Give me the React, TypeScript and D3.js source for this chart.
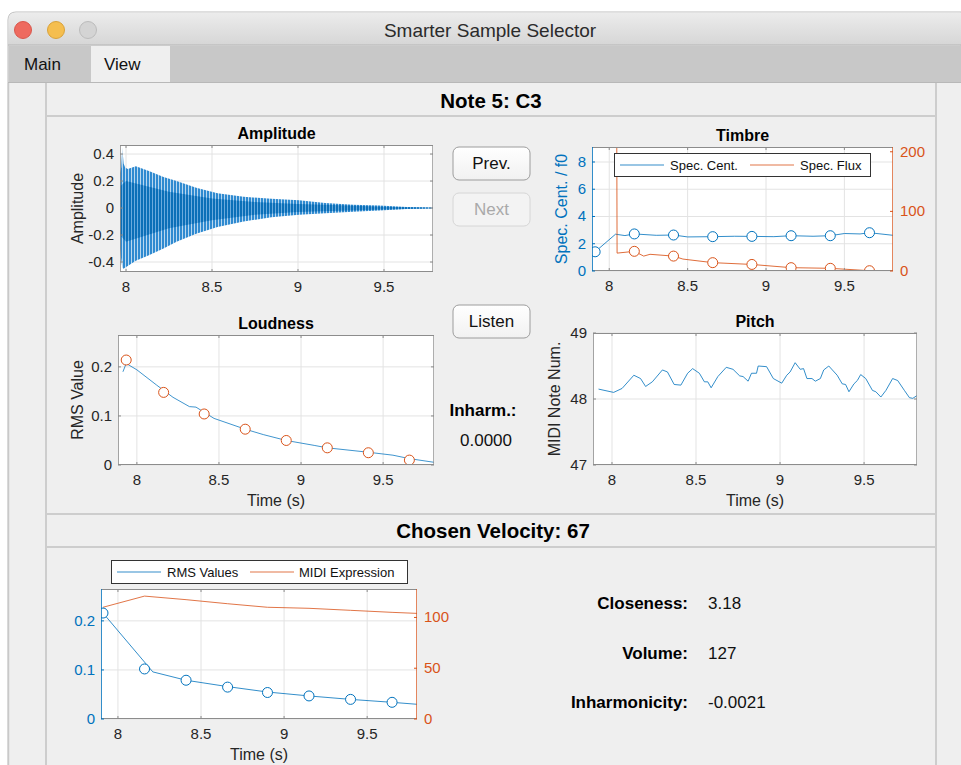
import React from 'react';
import * as d3 from 'd3';

const FONT = '"Liberation Sans", Arial, Helvetica, sans-serif';
const BLUE = '#0072BD';
const ORANGE = '#D95319';
const TXT = '#262626';

// shared time ticks
const timeTicks = [8, 8.5, 9, 9.5];

// Amplitude: waveform envelope (outer peaks and denser core)
const ampTime = [7.965, 7.972, 7.978, 7.986, 7.995, 8.01, 8.057, 8.133, 8.218, 8.294, 8.408, 8.532, 8.684, 8.845, 9.006, 9.158, 9.32, 9.472, 9.633, 9.785];
const ampUpper = [0.26, 0.3, 0.45, 0.33, 0.3, 0.29, 0.31, 0.275, 0.23, 0.2, 0.15, 0.11, 0.083, 0.068, 0.058, 0.038, 0.025, 0.018, 0.008, 0.003];
const ampLower = [-0.3, -0.38, -0.44, -0.45, -0.44, -0.43, -0.39, -0.35, -0.3, -0.25, -0.19, -0.14, -0.1, -0.068, -0.05, -0.038, -0.028, -0.018, -0.008, -0.003];
const coreTime = [7.965, 8.0, 8.25, 8.5, 8.75, 9.0, 9.25, 9.5, 9.785];
const coreUpper = [0.16, 0.2, 0.12, 0.07, 0.045, 0.03, 0.02, 0.01, 0.002];
const coreLower = [-0.2, -0.25, -0.15, -0.09, -0.05, -0.03, -0.02, -0.01, -0.002];
const ampTicks = [-0.4, -0.2, 0, 0.2, 0.4];

// Timbre
const centTime = [7.89, 7.91, 8.04, 8.1, 8.16, 8.3, 8.41, 8.5, 8.66, 8.8, 8.91, 9.05, 9.16, 9.3, 9.41, 9.5, 9.6, 9.66, 9.81];
const centValue = [1.35, 1.41, 2.7, 2.6, 2.72, 2.62, 2.64, 2.5, 2.52, 2.55, 2.54, 2.52, 2.59, 2.55, 2.59, 2.75, 2.72, 2.81, 2.62];
const centMarkTime = [7.91, 8.16, 8.41, 8.66, 8.91, 9.16, 9.41, 9.66];
const centMarkValue = [1.41, 2.72, 2.64, 2.52, 2.54, 2.59, 2.59, 2.81];
const fluxTime = [8.035, 8.05, 8.16, 8.22, 8.26, 8.41, 8.47, 8.66, 8.91, 9.16, 9.41, 9.66, 9.81];
const fluxValue = [1500, 30, 33, 25, 28, 25, 20, 14, 11, 5.6, 4.5, 0.5, 0];
const fluxMarkTime = [8.16, 8.41, 8.66, 8.91, 9.16, 9.41, 9.66];
const fluxMarkValue = [33, 25, 14, 11, 5.6, 4.5, 0.5];
const centTicks = [0, 2, 4, 6, 8];
const fluxTicks = [0, 100, 200];

// Loudness
const loudTime = [7.915, 7.935, 8.0, 8.12, 8.22, 8.32, 8.36, 8.47, 8.66, 8.77, 8.91, 9.08, 9.16, 9.41, 9.56, 9.66, 9.82];
const loudValue = [0.19, 0.207, 0.194, 0.163, 0.138, 0.119, 0.118, 0.095, 0.073, 0.062, 0.05, 0.04, 0.035, 0.026, 0.02, 0.013, 0.005];
const loudMarkTime = [7.935, 8.163, 8.41, 8.66, 8.91, 9.16, 9.41, 9.66];
const loudMarkValue = [0.214, 0.148, 0.104, 0.073, 0.05, 0.035, 0.025, 0.01];
const rmsTicks = [0, 0.1, 0.2];

// Pitch
const pitchTime = [7.92, 8.01, 8.06, 8.13, 8.17, 8.2, 8.24, 8.3, 8.33, 8.37, 8.41, 8.45, 8.48, 8.52, 8.55, 8.57, 8.59, 8.63, 8.68, 8.72, 8.76, 8.78, 8.81, 8.83, 8.86, 8.87, 8.92, 8.96, 9.01, 9.04, 9.06, 9.09, 9.12, 9.14, 9.16, 9.19, 9.21, 9.24, 9.26, 9.29, 9.34, 9.37, 9.39, 9.41, 9.44, 9.46, 9.48, 9.51, 9.55, 9.57, 9.6, 9.63, 9.67, 9.7, 9.74, 9.77, 9.79, 9.82];
const pitchValue = [48.15, 48.1, 48.16, 48.36, 48.31, 48.19, 48.26, 48.44, 48.41, 48.22, 48.21, 48.39, 48.46, 48.39, 48.26, 48.26, 48.17, 48.34, 48.48, 48.45, 48.35, 48.34, 48.27, 48.39, 48.39, 48.5, 48.49, 48.31, 48.24, 48.36, 48.41, 48.55, 48.45, 48.46, 48.31, 48.31, 48.27, 48.31, 48.44, 48.5, 48.36, 48.23, 48.22, 48.11, 48.23, 48.28, 48.37, 48.31, 48.13, 48.11, 48.03, 48.13, 48.31, 48.28, 48.13, 48.02, 48.01, 48.06];
const pitchTicks = [47, 48, 49];

// Chosen velocity
const rmsTime = [7.91, 8.21, 8.41, 8.66, 8.9, 9.15, 9.4, 9.65, 9.8];
const rmsValue = [0.216, 0.096, 0.079, 0.066, 0.055, 0.047, 0.04, 0.034, 0.03];
const rmsMarkTime = [7.91, 8.16, 8.41, 8.66, 8.9, 9.15, 9.4, 9.65];
const rmsMarkValue = [0.216, 0.102, 0.079, 0.065, 0.054, 0.047, 0.04, 0.034];
const exprTime = [7.91, 8.16, 8.41, 8.66, 8.9, 9.15, 9.4, 9.65, 9.8];
const exprValue = [110, 121, 117.5, 113.5, 110, 109, 107, 105, 104];
const exprTicks = [0, 50, 100];

const infoLabels = ['Closeness:', 'Volume:', 'Inharmonicity:'];
const infoValues = ['3.18', '127', '-0.0021'];

type Scales = {
  sx: d3.ScaleLinear<number, number>;
  sy: d3.ScaleLinear<number, number>;
  sy2: d3.ScaleLinear<number, number> | null;
};

interface AxesProps {
  id: string;
  x: number;
  y: number;
  w: number;
  h: number;
  xlim: [number, number];
  ylim: [number, number];
  yticks: number[];
  ylim2?: [number, number];
  yticks2?: number[];
  leftColor?: string;
  rightColor?: string;
  title?: string;
  xlabel?: string;
  ylabel?: string;
  ylabelX?: number;
  children: (s: Scales) => React.ReactNode;
}

const Axes: React.FC<AxesProps> = (p) => {
  const sx = d3.scaleLinear().domain(p.xlim).range([p.x, p.x + p.w]);
  const sy = d3.scaleLinear().domain(p.ylim).range([p.y + p.h, p.y]);
  const sy2 = p.ylim2 ? d3.scaleLinear().domain(p.ylim2).range([p.y + p.h, p.y]) : null;
  const boxC = '#8c8c8c';
  const lc = p.leftColor || boxC;
  const rc = p.rightColor || boxC;
  const bottom = p.y + p.h;
  const right = p.x + p.w;
  return (
    <g fontFamily={FONT}>
      <defs>
        <clipPath id={p.id}>
          <rect x={p.x} y={p.y} width={p.w} height={p.h} />
        </clipPath>
      </defs>
      <rect x={p.x} y={p.y} width={p.w} height={p.h} fill="#fff" />
      {timeTicks.map((t) => (
        <line key={'gx' + t} x1={sx(t)} x2={sx(t)} y1={p.y} y2={bottom} stroke="#e3e3e3" />
      ))}
      {p.yticks.map((v) => (
        <line key={'gy' + v} x1={p.x} x2={right} y1={sy(v)} y2={sy(v)} stroke="#e3e3e3" />
      ))}
      <g clipPath={`url(#${p.id})`}>{p.children({ sx, sy, sy2 })}</g>
      <line x1={p.x} x2={right} y1={p.y + 0.5} y2={p.y + 0.5} stroke={boxC} />
      <line x1={p.x} x2={right} y1={bottom - 0.5} y2={bottom - 0.5} stroke={boxC} />
      <line x1={p.x + 0.5} x2={p.x + 0.5} y1={p.y} y2={bottom} stroke={lc} strokeOpacity={0.8} />
      <line x1={right - 0.5} x2={right - 0.5} y1={p.y} y2={bottom} stroke={rc} strokeOpacity={0.7} />
      {timeTicks.map((t) => (
        <g key={'tx' + t}>
          <line x1={sx(t)} x2={sx(t)} y1={bottom} y2={bottom - 3} stroke={boxC} />
          <line x1={sx(t)} x2={sx(t)} y1={p.y} y2={p.y + 3} stroke={boxC} />
          <text x={sx(t)} y={bottom + 20} fontSize={15} textAnchor="middle" fill={TXT}>
            {String(t)}
          </text>
        </g>
      ))}
      {p.yticks.map((v) => (
        <g key={'ty' + v}>
          <line x1={p.x} x2={p.x + 3} y1={sy(v)} y2={sy(v)} stroke={lc} />
          {!sy2 && <line x1={right} x2={right - 3} y1={sy(v)} y2={sy(v)} stroke={boxC} />}
          <text x={p.x - 6} y={sy(v) + 5} fontSize={15} textAnchor="end" fill={p.leftColor || TXT}>
            {String(v)}
          </text>
        </g>
      ))}
      {sy2 &&
        (p.yticks2 || []).map((v) => (
          <g key={'ty2' + v}>
            <line x1={right} x2={right - 3} y1={sy2(v)} y2={sy2(v)} stroke={rc} />
            <text x={right + 7} y={sy2(v) + 5} fontSize={15} textAnchor="start" fill={p.rightColor}>
              {String(v)}
            </text>
          </g>
        ))}
      {p.title && (
        <text x={p.x + p.w / 2} y={p.y - 6} fontSize={16} fontWeight="bold" textAnchor="middle" fill="#000">
          {p.title}
        </text>
      )}
      {p.xlabel && (
        <text x={p.x + p.w / 2} y={bottom + 41} fontSize={16} textAnchor="middle" fill={TXT}>
          {p.xlabel}
        </text>
      )}
      {p.ylabel && (
        <text
          transform={`translate(${(p.ylabelX || p.x - 40) + 5},${p.y + p.h / 2}) rotate(-90)`}
          fontSize={16}
          textAnchor="middle"
          fill={p.leftColor || TXT}
        >
          {p.ylabel}
        </text>
      )}
    </g>
  );
};

const pathOf = (sx: any, sy: any, xs: number[], ys: number[]) =>
  d3
    .line<number>()
    .x((_, i) => sx(xs[i]))
    .y((_, i) => sy(ys[i]))(ys) || '';

const areaOf = (sx: any, sy: any, xs: number[], lo: number[], hi: number[]) =>
  d3
    .area<number>()
    .x((_, i) => sx(xs[i]))
    .y0((_, i) => sy(lo[i]))
    .y1((_, i) => sy(hi[i]))(hi) || '';

const Markers: React.FC<{ sx: any; sy: any; xs: number[]; ys: number[]; color: string }> = ({ sx, sy, xs, ys, color }) => (
  <g>
    {xs.map((t, i) => (
      <circle key={i} cx={sx(t)} cy={sy(ys[i])} r={5} fill="#fff" stroke={color} strokeWidth={1} />
    ))}
  </g>
);

const Button: React.FC<{ x: number; y: number; label: string; disabled?: boolean }> = ({ x, y, label, disabled }) => (
  <g fontFamily={FONT}>
    <rect
      x={x}
      y={y}
      width={77}
      height={33}
      rx={6}
      fill={disabled ? '#f3f3f3' : 'url(#btnGrad)'}
      stroke={disabled ? '#d6d6d6' : '#9c9c9c'}
    />
    <text x={x + 38.5} y={y + 22} fontSize={17} textAnchor="middle" fill={disabled ? '#a9a9a9' : '#111'}>
      {label}
    </text>
  </g>
);

const LegendBox: React.FC<{ x: number; y: number; w: number; items: { label: string; color: string; lx: number; tx: number }[] }> = ({ x, y, w, items }) => (
  <g fontFamily={FONT}>
    <rect x={x + 0.5} y={y + 0.5} width={w} height={23} fill="#fff" stroke="#333" />
    {items.map((it) => (
      <g key={it.label}>
        <line x1={x + it.lx} x2={x + it.lx + 44} y1={y + 12} y2={y + 12} stroke={it.color} strokeOpacity={0.8} />
        <text x={x + it.tx} y={y + 17} fontSize={13} fill="#111">
          {it.label}
        </text>
      </g>
    ))}
  </g>
);

export default function App() {
  const panelLine = '#cdcdcd';
  return (
    <div style={{ position: 'absolute', left: 0, top: 0 }}>
      <svg width={961} height={765} style={{ display: 'block' }}>
        <defs>
          <linearGradient id="titleGrad" x1="0" x2="0" y1="0" y2="1">
            <stop offset="0" stopColor="#ececec" />
            <stop offset="1" stopColor="#d6d6d6" />
          </linearGradient>
          <linearGradient id="btnGrad" x1="0" x2="0" y1="0" y2="1">
            <stop offset="0" stopColor="#ffffff" />
            <stop offset="1" stopColor="#f1f1f1" />
          </linearGradient>
          <pattern id="waveOuter" width={3} height={10} patternUnits="userSpaceOnUse">
            <rect width={2} height={10} fill="#2f8ad0" />
            <rect x={2} width={1} height={10} fill="#b9d8f0" />
          </pattern>
          <pattern id="waveCore" width={3} height={10} patternUnits="userSpaceOnUse">
            <rect width={2} height={10} fill="#0b6fb8" />
            <rect x={2} width={1} height={10} fill="#6aaadd" />
          </pattern>
        </defs>
        <rect width={961} height={765} fill="#fff" />
        {/* window */}
        <path d="M8,765 V20 Q8,12 16,12 H961 V765 Z" fill="#efefef" stroke="#bdbdbd" />
        <path d="M8.5,45 V20 Q8.5,12.5 16,12.5 H961 V45 Z" fill="url(#titleGrad)" />
        <line x1={8} x2={961} y1={45} y2={45} stroke="#b4b4b4" />
        <circle cx={23} cy={30} r={8.5} fill="#ee6a5f" stroke="#d9564b" />
        <circle cx={56} cy={30} r={8.5} fill="#f5be4f" stroke="#d9a23a" />
        <circle cx={88} cy={30} r={8.5} fill="#d4d4d4" stroke="#bcbcbc" />
        <text x={490} y={37} fontFamily={FONT} fontSize={19} textAnchor="middle" fill="#2b2b2b">
          Smarter Sample Selector
        </text>
        {/* tabs */}
        <rect x={8.5} y={45.5} width={953} height={37} fill="#c8c8c8" />
        <rect x={91} y={46} width={79} height={37} fill="#efefef" />
        <text x={24} y={70} fontFamily={FONT} fontSize={17} fill="#111">Main</text>
        <text x={104} y={70} fontFamily={FONT} fontSize={17} fill="#111">View</text>
        <line x1={8} x2={961} y1={82.5} y2={82.5} stroke="#b8b8b8" />
        {/* panels */}
        <rect x={8} y={83} width={953} height={682} fill="#efefef" />
        <line x1={8.5} x2={8.5} y1={83} y2={765} stroke="#c9c9c9" strokeWidth={1.5} />
        <line x1={46} x2={46} y1={83} y2={765} stroke={panelLine} strokeWidth={2} />
        <line x1={936} x2={936} y1={83} y2={765} stroke={panelLine} strokeWidth={2} />
        <line x1={46} x2={936} y1={116} y2={116} stroke={panelLine} strokeWidth={2} />
        <line x1={46} x2={936} y1={514} y2={514} stroke={panelLine} strokeWidth={2} />
        <line x1={46} x2={936} y1={547} y2={547} stroke={panelLine} strokeWidth={2} />
        <text x={491} y={108} fontFamily={FONT} fontSize={20.5} fontWeight="bold" textAnchor="middle" fill="#000">
          Note 5: C3
        </text>
        <text x={493} y={538} fontFamily={FONT} fontSize={20.5} fontWeight="bold" textAnchor="middle" fill="#000">
          Chosen Velocity: 67
        </text>

        {/* Amplitude */}
        <Axes id="cAmp" x={120} y={145} w={313} h={127} xlim={[7.965, 9.785]} ylim={[-0.474, 0.467]} yticks={ampTicks}
          title="Amplitude" ylabel="Amplitude" ylabelX={78}>
          {({ sx, sy }) => (
            <g>
              <path d={areaOf(sx, sy, ampTime, ampLower, ampUpper)} fill="url(#waveOuter)" />
              <path d={areaOf(sx, sy, coreTime, coreLower, coreUpper)} fill="url(#waveCore)" />
            </g>
          )}
        </Axes>

        {/* Timbre */}
        <Axes id="cTim" x={592} y={147} w={301} h={124} xlim={[7.89, 9.81]} ylim={[0, 9.1]} yticks={centTicks}
          ylim2={[0, 208]} yticks2={fluxTicks} leftColor={BLUE} rightColor={ORANGE}
          title="Timbre" ylabel="Spec. Cent. / f0" ylabelX={562}>
          {({ sx, sy, sy2 }) => (
            <g>
              <path d={pathOf(sx, sy, centTime, centValue)} fill="none" stroke={BLUE} strokeOpacity={0.8} />
              <Markers sx={sx} sy={sy} xs={centMarkTime} ys={centMarkValue} color={BLUE} />
              <path d={pathOf(sx, sy2, fluxTime, fluxValue)} fill="none" stroke={ORANGE} strokeOpacity={0.85} />
              <Markers sx={sx} sy={sy2} xs={fluxMarkTime} ys={fluxMarkValue} color={ORANGE} />
            </g>
          )}
        </Axes>
        <LegendBox x={614} y={153} w={256}
          items={[
            { label: 'Spec. Cent.', color: BLUE, lx: 6, tx: 56 },
            { label: 'Spec. Flux', color: ORANGE, lx: 136, tx: 186 },
          ]} />

        {/* Loudness */}
        <Axes id="cLoud" x={118} y={335} w={316} h={130} xlim={[7.885, 9.81]} ylim={[0, 0.265]} yticks={rmsTicks}
          title="Loudness" xlabel="Time (s)" ylabel="RMS Value" ylabelX={78}>
          {({ sx, sy }) => (
            <g>
              <path d={pathOf(sx, sy, loudTime, loudValue)} fill="none" stroke={BLUE} strokeOpacity={0.75} />
              <Markers sx={sx} sy={sy} xs={loudMarkTime} ys={loudMarkValue} color={ORANGE} />
            </g>
          )}
        </Axes>

        {/* Pitch */}
        <Axes id="cPitch" x={593} y={333} w={324} h={132} xlim={[7.887, 9.815]} ylim={[47, 49]} yticks={pitchTicks}
          title="Pitch" xlabel="Time (s)" ylabel="MIDI Note Num." ylabelX={555}>
          {({ sx, sy }) => (
            <path d={pathOf(sx, sy, pitchTime, pitchValue)} fill="none" stroke={BLUE} strokeOpacity={0.8} />
          )}
        </Axes>

        {/* Chosen velocity */}
        <Axes id="cVel" x={101} y={589} w={316} h={130} xlim={[7.898, 9.8]} ylim={[0, 0.265]} yticks={rmsTicks}
          ylim2={[0, 128]} yticks2={exprTicks} leftColor={BLUE} rightColor={ORANGE} xlabel="Time (s)">
          {({ sx, sy, sy2 }) => (
            <g>
              <path d={pathOf(sx, sy2, exprTime, exprValue)} fill="none" stroke={ORANGE} strokeOpacity={0.8} />
              <path d={pathOf(sx, sy, rmsTime, rmsValue)} fill="none" stroke={BLUE} strokeOpacity={0.8} />
              <Markers sx={sx} sy={sy} xs={rmsMarkTime} ys={rmsMarkValue} color={BLUE} />
            </g>
          )}
        </Axes>
        <LegendBox x={111} y={560} w={296}
          items={[
            { label: 'RMS Values', color: BLUE, lx: 6, tx: 56 },
            { label: 'MIDI Expression', color: ORANGE, lx: 139, tx: 188 },
          ]} />

        {/* controls */}
        <Button x={453} y={147} label="Prev." />
        <Button x={453} y={193} label="Next" disabled />
        <Button x={453} y={305} label="Listen" />
        <text x={483} y={416} fontFamily={FONT} fontSize={17} fontWeight="bold" textAnchor="middle" fill="#000">
          Inharm.:
        </text>
        <text x={486} y={446} fontFamily={FONT} fontSize={17} textAnchor="middle" fill="#111">
          0.0000
        </text>
        {infoLabels.map((l, i) => (
          <g key={l} fontFamily={FONT} fontSize={17}>
            <text x={688} y={609 + i * 49.5} fontWeight="bold" textAnchor="end" fill="#000">
              {l}
            </text>
            <text x={708} y={609 + i * 49.5} fill="#111">
              {infoValues[i]}
            </text>
          </g>
        ))}
      </svg>
    </div>
  );
}
